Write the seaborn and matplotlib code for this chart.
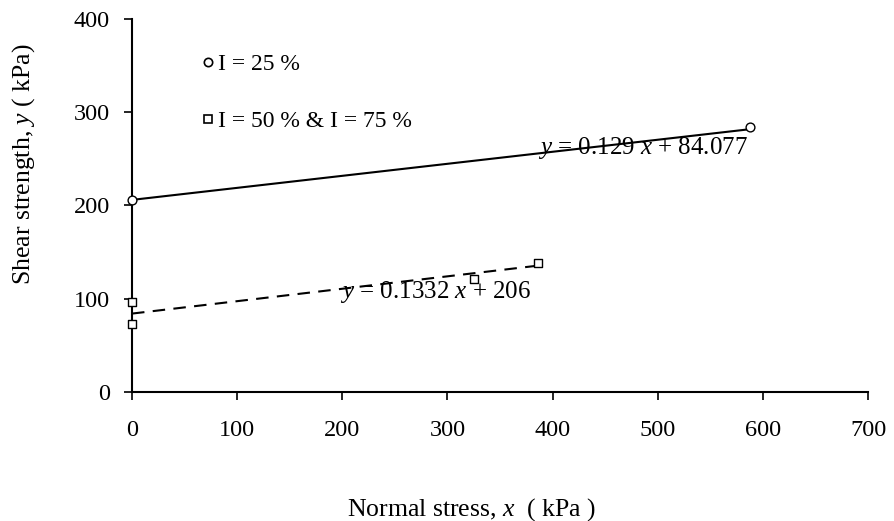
import matplotlib
matplotlib.use("Agg")
import matplotlib.pyplot as plt
from matplotlib.lines import Line2D
import seaborn as sns
import pandas as pd
import numpy as np

# Data
x_i25 = [0, 588]
y_i25 = [206, 284]
x_i50 = [0, 0, 325, 386]
y_i50 = [96, 73, 121, 138]
fit1_slope, fit1_icpt = 0.129, 206.0
fit2_slope, fit2_icpt = 0.1332, 84.077
eq1_text = "$y$ = 0.129 $x$ + 84.077"
eq2_text = "$y$ = 0.1332 $x$ + 206"
legend_labels = ["I = 25 %", "I = 50 % & I = 75 %"]
x_ticks = [0, 100, 200, 300, 400, 500, 600, 700]
y_ticks = [0, 100, 200, 300, 400]

sns.set_style("white")
plt.rcParams['font.family'] = ['Liberation Serif', 'DejaVu Serif']
plt.rcParams['mathtext.fontset'] = 'custom'
plt.rcParams['mathtext.it'] = 'Liberation Serif:italic'
plt.rcParams['mathtext.rm'] = 'Liberation Serif'
plt.rcParams['text.color'] = 'black'
plt.rcParams['axes.labelcolor'] = 'black'

fig = plt.figure(figsize=(8.95, 5.21), dpi=100)
ax = fig.add_axes([0.1475, 0.2476, 0.8225, 0.716])

fs = 17.5

# fitted lines
fx1 = np.array([0, x_i25[-1]])
df1 = pd.DataFrame({"x": fx1, "y": fit1_slope * fx1 + fit1_icpt})
sns.lineplot(data=df1, x="x", y="y", ax=ax, color="black", lw=1.5)
fx2 = np.array([0, x_i50[-1]])
df2 = pd.DataFrame({"x": fx2, "y": fit2_slope * fx2 + fit2_icpt})
sns.lineplot(data=df2, x="x", y="y", ax=ax, color="black", lw=1.5,
             dashes=False, linestyle=(0, (6, 4)))

# points
sns.scatterplot(x=x_i25, y=y_i25, ax=ax, marker="o", s=40,
                facecolors="white", edgecolor="black", linewidth=1.0, zorder=5, clip_on=False)
sns.scatterplot(x=x_i50, y=y_i50, ax=ax, marker="s", s=40,
                facecolors="white", edgecolor="black", linewidth=1.0, zorder=5, clip_on=False)

ax.set_xlim(0, 700)
ax.set_ylim(0, 400)
ax.set_xticks(x_ticks)
ax.set_yticks(y_ticks)
ax.tick_params(axis="both", labelsize=fs, direction="out", length=6, width=1.2,
               colors="black", left=True, bottom=True)
ax.tick_params(axis="x", pad=14)
ax.tick_params(axis="y", pad=10)
for s in ["top", "right"]:
    ax.spines[s].set_visible(False)
for s in ["left", "bottom"]:
    ax.spines[s].set_color("black")
    ax.spines[s].set_linewidth(1.5)

ax.set_xlabel("Normal stress, $x$  ( kPa )", fontsize=18.5)
ax.set_ylabel("Shear strength, $y$ ( kPa)", fontsize=18.5)
ax.xaxis.set_label_coords(0.461, -0.278)
ax.yaxis.set_label_coords(-0.129, 0.611)

ax.text(486, 262, eq1_text, fontsize=18, ha="center", va="center", zorder=6)
ax.text(289, 107, eq2_text, fontsize=18, ha="center", va="center", zorder=6)

handles = [
    Line2D([], [], marker="o", ls="none", mfc="white", mec="black", ms=6, mew=1.2),
    Line2D([], [], marker="s", ls="none", mfc="white", mec="black", ms=6, mew=1.2),
]
ax.legend(handles, legend_labels, loc="upper left", bbox_to_anchor=(0.077, 0.938),
          frameon=False, fontsize=17, handlelength=0.6, handletextpad=0.15,
          labelspacing=1.5, borderpad=0)

fig.savefig("out.png", dpi=100)
